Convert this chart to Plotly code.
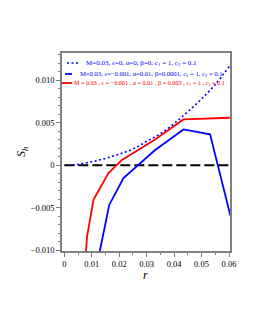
import plotly.graph_objects as go

# data
r_dotted = [0.003, 0.005, 0.010, 0.015, 0.020, 0.025, 0.030, 0.035, 0.040, 0.045, 0.050, 0.055, 0.0605]
s_dotted = [0.0, 0.0001, 0.0004, 0.0008, 0.0013, 0.0019, 0.0028, 0.0037, 0.0049, 0.0063, 0.0078, 0.0095, 0.0118]

r_blue = [0.01295, 0.01636, 0.02156, 0.0331, 0.0434, 0.0531, 0.0605]
s_blue = [-0.0101, -0.00468, -0.00152, 0.00179, 0.00421, 0.00363, -0.00593]

r_red = [0.00792, 0.00825, 0.01065, 0.0161, 0.0210, 0.0328, 0.0434, 0.0605]
s_red = [-0.0101, -0.00846, -0.00406, -0.00094, 0.00062, 0.00296, 0.00538, 0.00558]

r_zero = [0.0, 0.06]
s_zero = [0.0, 0.0]

x_ticks = [0, 0.01, 0.02, 0.03, 0.04, 0.05, 0.06]
x_labels = ["0", "0.01", "0.02", "0.03", "0.04", "0.05", "0.06"]
y_ticks = [-0.010, -0.005, 0, 0.005, 0.010]
y_labels = ["\u22120.010", "\u22120.005", "0", "0.005", "0.010"]

legend_texts = [
    "M=0.03, \u03f5=0, \u03b1=0, \u03b2=0, c<sub>1</sub> = 1, c<sub>2</sub> = 0.1",
    "M=0.03, \u03f5=\u22120.001, \u03b1=0.01, \u03b2=0.0001, c<sub>1</sub> = 1, c<sub>2</sub> = 0.1",
    "M = 0.03 , \u03f5 = \u22120.001 , \u03b1 = 0.01 , \u03b2 = 0.003 , c<sub>1</sub> = 1 , c<sub>2</sub> = 0.1",
]

BLUE = "#0000ff"
RED = "#ff0000"
SERIF = "Liberation Serif"

fig = go.Figure()
fig.add_trace(go.Scatter(x=r_zero, y=s_zero, mode="lines",
                         line=dict(color="black", width=2, dash="10px,4px"), showlegend=False))
fig.add_trace(go.Scatter(x=r_dotted, y=s_dotted, mode="lines", line_shape="spline",
                         line=dict(color=BLUE, width=1.6, dash="2px,2.5px"), showlegend=False))
fig.add_trace(go.Scatter(x=r_blue, y=s_blue, mode="lines",
                         line=dict(color=BLUE, width=1.8), showlegend=False))
fig.add_trace(go.Scatter(x=r_red, y=s_red, mode="lines",
                         line=dict(color=RED, width=1.8), showlegend=False))

# page body has an 8px margin: screen coords = figure coords + 8
OFF = 8
W, H = 255, 330
L, T = 62 - OFF, 53 - OFF
pw, ph = 230 - 62, 251 - 53
R, B = W - L - pw, H - T - ph

def px(x):
    return (x - OFF - L) / pw

def py(y):
    return 1 - (y - OFF - T) / ph

shapes = []
annotations = []
# legend samples (paper coords, given in screen pixels)
samples = [
    (67, 80, 63, BLUE, "2px,2.5px", 1.6),
    (65, 72, 74, BLUE, "solid", 1.8),
    (62, 72, 83, RED, "solid", 1.8),
]
for x0, x1, y, c, d, w in samples:
    shapes.append(dict(type="line", xref="paper", yref="paper",
                       x0=px(x0), x1=px(x1), y0=py(y), y1=py(y),
                       line=dict(color=c, width=w, dash=d)))
text_pos = [(84, 63, BLUE, 7), (78, 74, BLUE, 6.6), (72, 83, RED, 6.2)]
for (x, y, c, s), t in zip(text_pos, legend_texts):
    annotations.append(dict(text=t, xref="paper", yref="paper", x=px(x), y=py(y),
                            xanchor="left", yanchor="middle", showarrow=False,
                            font=dict(family=SERIF, size=s, color=c)))

annotations.append(dict(text="<i>S<sub>h</sub></i>", xref="paper", yref="paper",
                        x=px(22), y=py(152), xanchor="center", yanchor="middle",
                        textangle=-90, showarrow=False,
                        font=dict(family=SERIF, size=12, color="black")))
annotations.append(dict(text="<i>r</i>", xref="paper", yref="paper",
                        x=px(145), y=py(275), xanchor="center", yanchor="middle",
                        showarrow=False, font=dict(family=SERIF, size=12, color="black")))

axis_common = dict(showgrid=False, zeroline=False, showline=True, linecolor="#808080",
                   linewidth=1.5, mirror=True, ticks="outside", ticklen=4, tickwidth=1,
                   tickcolor="#808080", tickfont=dict(family=SERIF, size=8.5, color="black"))

fig.update_layout(
    width=W, height=H,
    margin=dict(l=L, r=R, t=T, b=B, pad=0),
    paper_bgcolor="white", plot_bgcolor="white",
    xaxis=dict(range=[-0.00084, 0.06036], tickvals=x_ticks, ticktext=x_labels,
               minor=dict(dtick=0.005, tick0=0, ticks="outside", ticklen=2, tickcolor="#808080"),
               **axis_common),
    yaxis=dict(range=[-0.0101, 0.0132], tickvals=y_ticks, ticktext=y_labels,
               minor=dict(dtick=0.001, tick0=0, ticks="outside", ticklen=2, tickcolor="#808080"),
               **axis_common),
    shapes=shapes, annotations=annotations, showlegend=False,
)

fig.write_html("out.html")
